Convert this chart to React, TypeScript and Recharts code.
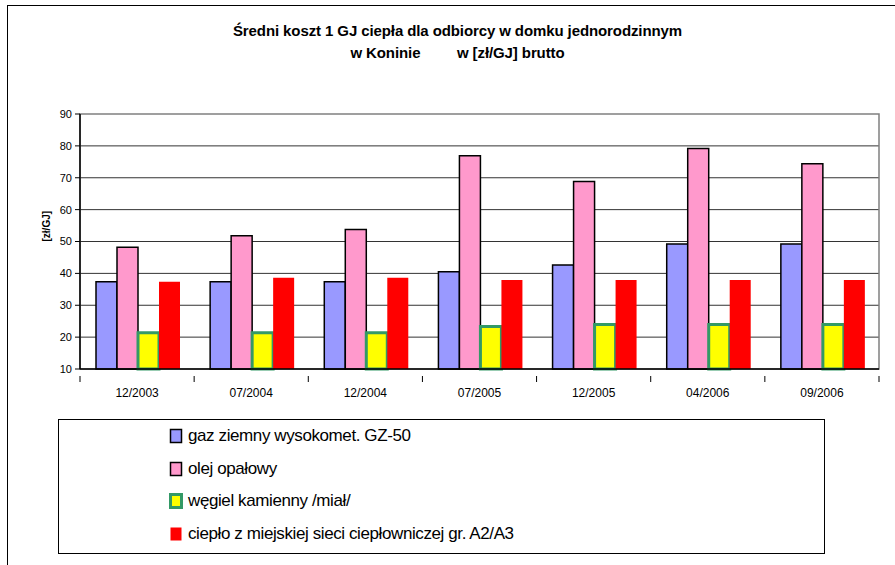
import React from 'react';
import { Bar, BarChart, CartesianGrid, ReferenceArea, XAxis, YAxis } from 'recharts';

const periods = ['12/2003', '07/2004', '12/2004', '07/2005', '12/2005', '04/2006', '09/2006'];
const gas = [37.4, 37.4, 37.4, 40.5, 42.6, 49.2, 49.2];
const oil = [48.2, 51.8, 53.8, 76.9, 68.8, 79.2, 74.4];
const coal = [21.4, 21.4, 21.4, 23.3, 24.0, 24.0, 24.0];
const heat = [37.4, 38.6, 38.6, 37.9, 37.9, 37.9, 37.9];
const yTicks = [10, 20, 30, 40, 50, 60, 70, 80, 90];

const seriesNames = [
  'gaz ziemny wysokomet. GZ-50',
  'olej opałowy',
  'węgiel kamienny /miał/',
  'ciepło z miejskiej sieci ciepłowniczej gr. A2/A3'
];

const data = periods.map((p, i) => ({
  period: p,
  gas: gas[i],
  oil: oil[i],
  coal: coal[i],
  heat: heat[i]
}));

const font = "'Liberation Sans', Arial, sans-serif";
const bandWidth = (879 - 80) / periods.length;

const legendItems = [
  { fill: '#9999FF', stroke: '#000', sw: 1.5 },
  { fill: '#FF99CC', stroke: '#000', sw: 1.5 },
  { fill: '#FFFF00', stroke: '#339966', sw: 3 },
  { fill: '#FF0000', stroke: 'none', sw: 0 }
];

const XTick = (props: any) => {
  const { x, y, payload, index } = props;
  return (
    <g>
      <line x1={x - bandWidth / 2} y1={y - 1} x2={x - bandWidth / 2} y2={y + 5} stroke='#000' />
      {index === periods.length - 1 && (
        <line x1={x + bandWidth / 2} y1={y - 1} x2={x + bandWidth / 2} y2={y + 5} stroke='#000' />
      )}
      <text x={x} y={y + 20} textAnchor='middle' fontSize={12} fontFamily={font} fill='#000'>
        {payload.value}
      </text>
    </g>
  );
};

export default function App() {
  return (
    <div style={{ position: 'absolute', left: 0, top: 0, width: 895, height: 565, background: '#fff', fontFamily: font }}>
      <div style={{ position: 'absolute', left: 7, top: 5, width: 900, height: 600, border: '1.5px solid #000', boxSizing: 'border-box' }} />
      <div style={{ position: 'absolute', left: 0, width: 915, top: 20, textAlign: 'center', fontWeight: 'bold', fontSize: 15, lineHeight: '22px', letterSpacing: -0.1 }}>
        <div>Średni koszt 1 GJ ciepła dla odbiorcy w domku jednorodzinnym</div>
        <div>w Koninie{'\u00a0\u00a0\u00a0\u00a0\u00a0\u00a0\u00a0\u00a0\u00a0'}w [zł/GJ] brutto</div>
      </div>
      <BarChart
        width={895}
        height={565}
        data={data}
        margin={{ top: 114, right: 16, bottom: 166, left: 0 }}
        barCategoryGap={16}
        barGap={0}
        style={{ position: 'absolute', left: 0, top: 0 }}
      >
        <CartesianGrid vertical={false} horizontalValues={[20, 30, 40, 50, 60, 70, 80]} stroke='#333' />
        <ReferenceArea y1={10} y2={90} fill='none' stroke='#808080' strokeWidth={1.5} ifOverflow='visible' />
        <XAxis
          dataKey='period'
          height={30}
          tickLine={false}
          axisLine={{ stroke: '#000', strokeWidth: 1.5 }}
          tick={<XTick />}
          interval={0}
        />
        <YAxis
          width={80}
          domain={[10, 90]}
          ticks={yTicks}
          interval={0}
          tickSize={5}
          tickMargin={3}
          axisLine={{ stroke: '#000', strokeWidth: 1.5 }}
          tickLine={{ stroke: '#000' }}
          tick={{ fontSize: 11, fill: '#000', fontFamily: font }}
          label={{ value: '[zł/GJ]', angle: -90, position: 'insideLeft', offset: 46, style: { fontSize: 10, fontWeight: 'bold', fill: '#000', fontFamily: font } }}
        />
        <Bar dataKey='gas' name={seriesNames[0]} fill='#9999FF' stroke='#000' strokeWidth={1.5} isAnimationActive={false} />
        <Bar dataKey='oil' name={seriesNames[1]} fill='#FF99CC' stroke='#000' strokeWidth={1.5} isAnimationActive={false} />
        <Bar dataKey='coal' name={seriesNames[2]} fill='#FFFF00' stroke='#339966' strokeWidth={3} isAnimationActive={false} />
        <Bar dataKey='heat' name={seriesNames[3]} fill='#FF0000' isAnimationActive={false} />
      </BarChart>
      <div style={{ position: 'absolute', left: 58, top: 419, width: 767, height: 135, border: '1px solid #000', boxSizing: 'border-box' }}>
        {seriesNames.map((name, i) => (
          <div key={name} style={{ position: 'absolute', left: 110, top: 4 + i * 32.5, height: 24, display: 'flex', alignItems: 'center', fontSize: 17, letterSpacing: -0.4 }}>
            <svg width={14} height={16} style={{ marginRight: 5 }}>
              <rect
                x={1.5}
                y={1.5}
                width={11}
                height={13}
                fill={legendItems[i].fill}
                stroke={legendItems[i].stroke}
                strokeWidth={legendItems[i].sw}
              />
            </svg>
            <span>{name}</span>
          </div>
        ))}
      </div>
    </div>
  );
}
